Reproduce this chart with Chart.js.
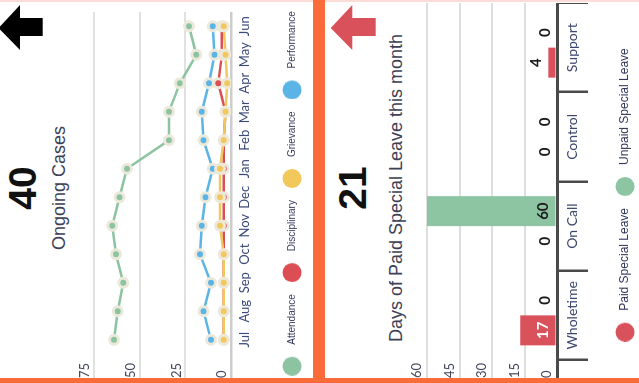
<!DOCTYPE html>
<html>
<head>
<meta charset="utf-8">
<script src="https://cdn.jsdelivr.net/npm/chart.js@4.4.1/dist/chart.umd.min.js"></script>
<style>
  html, body { margin: 0; padding: 0; width: 639px; height: 383px; overflow: hidden; background: #fff; }
  /* the dashboard is laid out portrait and turned a quarter turn */
  #frame { position: absolute; left: 0; top: 0; width: 383px; height: 639px;
           transform-origin: 0 0; transform: translateY(383px) rotate(-90deg); background: #fff; }
  .kpi { position: absolute; left: 8px; width: 374px; text-align: center;
         font-family: "Liberation Sans", Arial, sans-serif; white-space: nowrap; }
  .num { font-weight: bold; font-size: 39px; line-height: 39px; color: #111; }
  .caption { font-size: 18px; line-height: 18px; color: #3c4156; }
  .edge { position: absolute; z-index: 5; }
  canvas, svg { position: absolute; }
</style>
</head>
<body>
<div id="frame">
  <svg style="left:330px;top:-4px" width="50" height="50">
    <polygon points="25,2.5 48,24 35,24 35,46.7 17,46.7 17,24 3,24" fill="#000"/>
  </svg>
  <div class="kpi num" style="top:3px">40</div>
  <div class="kpi caption" style="top:50px">Ongoing Cases</div>
  <canvas id="casesChart" width="399" height="237" style="left:-10px;top:70px"></canvas>

  <svg style="left:330px;top:326px" width="50" height="52">
    <polygon points="25,4.7 48,26.3 35,26.3 35,49.7 17,49.7 17,26.3 3,26.3" fill="#d9515a"/>
  </svg>
  <div class="kpi num" style="top:333px">21</div>
  <div class="kpi caption" style="top:387px">Days of Paid Special Leave this month</div>
  <canvas id="leaveChart" width="384" height="241" style="left:-4px;top:400px"></canvas>

  <div class="edge" style="left:381px;top:0;width:2px;height:639px;background:#fcdcd6"></div>
  <div class="edge" style="left:0;top:0;width:5px;height:639px;background:#f96b39"></div>
  <div class="edge" style="left:0;top:313px;width:383px;height:12px;background:#f96b39"></div>
</div>

<script>
// Ongoing cases by month
const months = ['Jul', 'Aug', 'Sep', 'Oct', 'Nov', 'Dec', 'Jan', 'Feb', 'Mar', 'Apr', 'May', 'Jun'];
const attendance   = [64, 62, 59, 63, 65, 61, 57, 34, 34, 28, 19, 23];
const disciplinary = [4, 4, 4, 4, 4, 4, 4, 4, 3, 7, 5, 5];
const grievance    = [4, 4, 4, 4, 6, 6, 6, 4, 3, 2, 3, 4];
const performance  = [11, 15, 11, 17, 16, 14, 10, 15, 16, 12, 9, 10];
const caseTicks = [0, 25, 50, 75];

// Special leave days this month
const leaveCategories = ['Wholetime', 'On Call', 'Control', 'Support'];
const paidLeave   = [17, 0, 0, 4];
const unpaidLeave = [0, 60, 0, 0];
const leaveTicks = [0, 15, 30, 45, 60];

const GREEN = '#8cc4a1', RED = '#dc4d54', YELLOW = '#f2c75c', BLUE = '#5bb4e6';
const BAR_RED = '#d9515a', BAR_GREEN = '#8dc4a2';
const CREAM = '#ede9da';

Chart.defaults.font.family = 'Lato';

// legend marker: a round dot at the left of a small canvas
function legendDot(color, width) {
  const c = document.createElement('canvas');
  c.width = width; c.height = 20;
  const g = c.getContext('2d');
  g.fillStyle = color;
  g.beginPath();
  g.arc(9.5, 10, 9.5, 0, Math.PI * 2);
  g.fill();
  return c;
}
function dotLabels(width, colors) {
  return function (chart) {
    const items = Chart.defaults.plugins.legend.labels.generateLabels(chart);
    items.sort((a, b) => a.datasetIndex - b.datasetIndex);
    items.forEach(it => { it.pointStyle = legendDot(colors[it.datasetIndex], width); });
    return items;
  };
}

function lineSet(label, data, color, order) {
  return {
    label, data, order,
    borderColor: color, backgroundColor: color,
    borderWidth: 2.5, tension: 0, fill: false,
    pointRadius: 4.5, pointHoverRadius: 4.5, pointBorderWidth: 3,
    pointBackgroundColor: color, pointBorderColor: CREAM
  };
}

new Chart(document.getElementById('casesChart'), {
  type: 'line',
  data: {
    labels: months,
    datasets: [
      lineSet('Attendance', attendance, GREEN, 0),
      lineSet('Disciplinary', disciplinary, RED, 1),
      lineSet('Grievance', grievance, YELLOW, 0),
      lineSet('Performance', performance, BLUE, 0)
    ]
  },
  options: {
    responsive: false, animation: false, events: [],
    layout: { padding: { top: 24, left: 0, right: 0, bottom: 0 } },
    plugins: {
      tooltip: { enabled: false },
      legend: {
        position: 'bottom', align: 'center',
        labels: {
          usePointStyle: true, pointStyleWidth: 26, padding: 12,
          color: '#33385a', font: { family: 'Liberation Sans', size: 10 },
          generateLabels: dotLabels(26, [GREEN, RED, YELLOW, BLUE])
        }
      }
    },
    scales: {
      x: {
        offset: true,
        grid: { display: false, drawTicks: false },
        border: { display: false },
        ticks: { autoSkip: false, maxRotation: 0, padding: 6, color: '#3d4b7c', font: { size: 13 } },
        afterFit(s) { s.height = 44; }
      },
      y: {
        position: 'left', min: 0, max: 75,
        afterBuildTicks(s) { s.ticks = caseTicks.map(v => ({ value: v })); },
        ticks: { mirror: true, crossAlign: 'near', padding: -24, labelOffset: -9,
                 color: '#444a5e', font: { size: 13 } },
        grid: {
          color: c => c.tick && c.tick.value === 0 ? '#cdcdcd' : '#e1e1e1',
          lineWidth: c => c.tick && c.tick.value === 0 ? 2.5 : 2,
          drawTicks: true, tickLength: 24
        },
        border: { display: false },
        afterFit(s) { s.width = 39; }
      },
      yPad: {
        type: 'linear', position: 'right',
        grid: { display: false, drawTicks: false },
        border: { display: false },
        ticks: { display: false },
        afterFit(s) { s.width = 18; }
      }
    }
  }
});

// value labels: at the foot of a bar when it is tall enough, else just above it
const barValueLabels = {
  id: 'barValueLabels',
  afterDatasetsDraw(chart) {
    const ctx = chart.ctx;
    ctx.save();
    ctx.font = 'bold 15px Lato';
    ctx.textAlign = 'center';
    ctx.textBaseline = 'middle';
    chart.data.datasets.forEach((ds, di) => {
      chart.getDatasetMeta(di).data.forEach((bar, i) => {
        const inside = (bar.base - bar.y) >= 24;
        ctx.fillStyle = inside ? ds.insideLabelColor : '#1a1a1a';
        ctx.fillText(String(ds.data[i]), bar.x, (inside ? bar.base : bar.y) - 12);
      });
    });
    ctx.restore();
  }
};

new Chart(document.getElementById('leaveChart'), {
  type: 'bar',
  data: {
    labels: leaveCategories,
    datasets: [
      { label: 'Paid Special Leave', data: paidLeave, backgroundColor: BAR_RED, insideLabelColor: '#ffffff' },
      { label: 'Unpaid Special Leave', data: unpaidLeave, backgroundColor: BAR_GREEN, insideLabelColor: '#1e1e1e' }
    ]
  },
  plugins: [barValueLabels],
  options: {
    responsive: false, animation: false, events: [],
    barPercentage: 1, categoryPercentage: 0.672,
    layout: { padding: { top: 27, left: 0, right: 0, bottom: 0 } },
    plugins: {
      tooltip: { enabled: false },
      legend: {
        position: 'bottom', align: 'center',
        labels: {
          usePointStyle: true, pointStyleWidth: 25, padding: 12,
          color: '#33385a', font: { family: 'Liberation Sans', size: 12 },
          generateLabels: dotLabels(25, [BAR_RED, BAR_GREEN])
        }
      }
    },
    scales: {
      x: {
        offset: true,
        grid: { display: true, drawOnChartArea: false, drawTicks: true, tickLength: 31,
                color: '#4a4a4a', lineWidth: 2.5, offset: true },
        border: { display: false },
        ticks: { padding: -24, maxRotation: 0, color: '#3d4870', font: { size: 14 } },
        afterFit(s) { s.height = 50; }
      },
      y: {
        min: 0, max: 60,
        afterBuildTicks(s) { s.ticks = leaveTicks.map(v => ({ value: v })); },
        ticks: { mirror: true, crossAlign: 'near', padding: -18, labelOffset: -10,
                 color: '#444a5e', font: { size: 13 } },
        grid: {
          color: c => c.tick && c.tick.value === 0 ? '#4a4a4a' : '#dedede',
          lineWidth: c => c.tick && c.tick.value === 0 ? 3 : 2,
          drawTicks: true, tickLength: 18
        },
        border: { display: false },
        afterFit(s) { s.width = 27; }
      }
    }
  }
});
</script>
</body>
</html>
